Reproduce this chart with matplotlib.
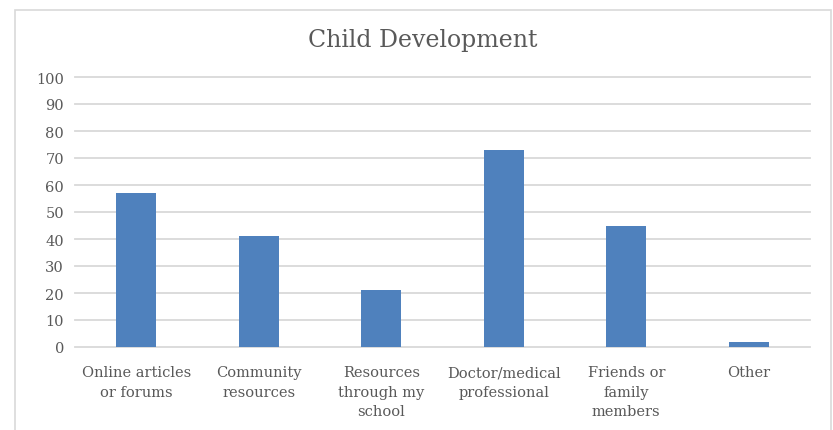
import matplotlib.pyplot as plt
from matplotlib.patches import Rectangle

categories = ['Online articles\nor forums', 'Community\nresources', 'Resources\nthrough my\nschool',
              'Doctor/medical\nprofessional', 'Friends or\nfamily\nmembers', 'Other']
values = [57, 41, 21, 73, 45, 2]
y_ticks = [0, 10, 20, 30, 40, 50, 60, 70, 80, 90, 100]

plt.rcParams['font.family'] = ['DejaVu Serif']

fig = plt.figure(figsize=(8.33, 4.31), dpi=100)
ax = fig.add_axes([75 / 833, 1 - 348 / 431, 735 / 833, 270 / 431])

# rand des diagramms
fig.patches.append(Rectangle((15 / 833, -0.1), 816 / 833, 1.1 - 11 / 431, transform=fig.transFigure,
                             fill=False, edgecolor='#d9d9d9', linewidth=1.2))

x = range(len(categories))
ax.bar(x, values, width=0.33, color='#4f81bd', zorder=3)
ax.set_xlim(-0.5, len(categories) - 0.5)
ax.set_ylim(0, 100)
ax.set_yticks(y_ticks)
ax.set_xticks(list(x))
ax.set_xticklabels(categories, linespacing=1.5)
ax.grid(axis='y', color='#d9d9d9', linewidth=1.3, zorder=0)
for gl in ax.get_ygridlines():
    gl.set_clip_on(False)
for s in ax.spines.values():
    s.set_visible(False)
ax.tick_params(length=0, labelcolor='#595959', labelsize=10.5)
ax.tick_params(axis='x', pad=13)
ax.tick_params(axis='y', pad=8)

fig.text(0.508, 1 - 40 / 431, 'Child Development', ha='center', va='center', fontsize=17, color='#595959')

plt.savefig('out.png', dpi=100)
